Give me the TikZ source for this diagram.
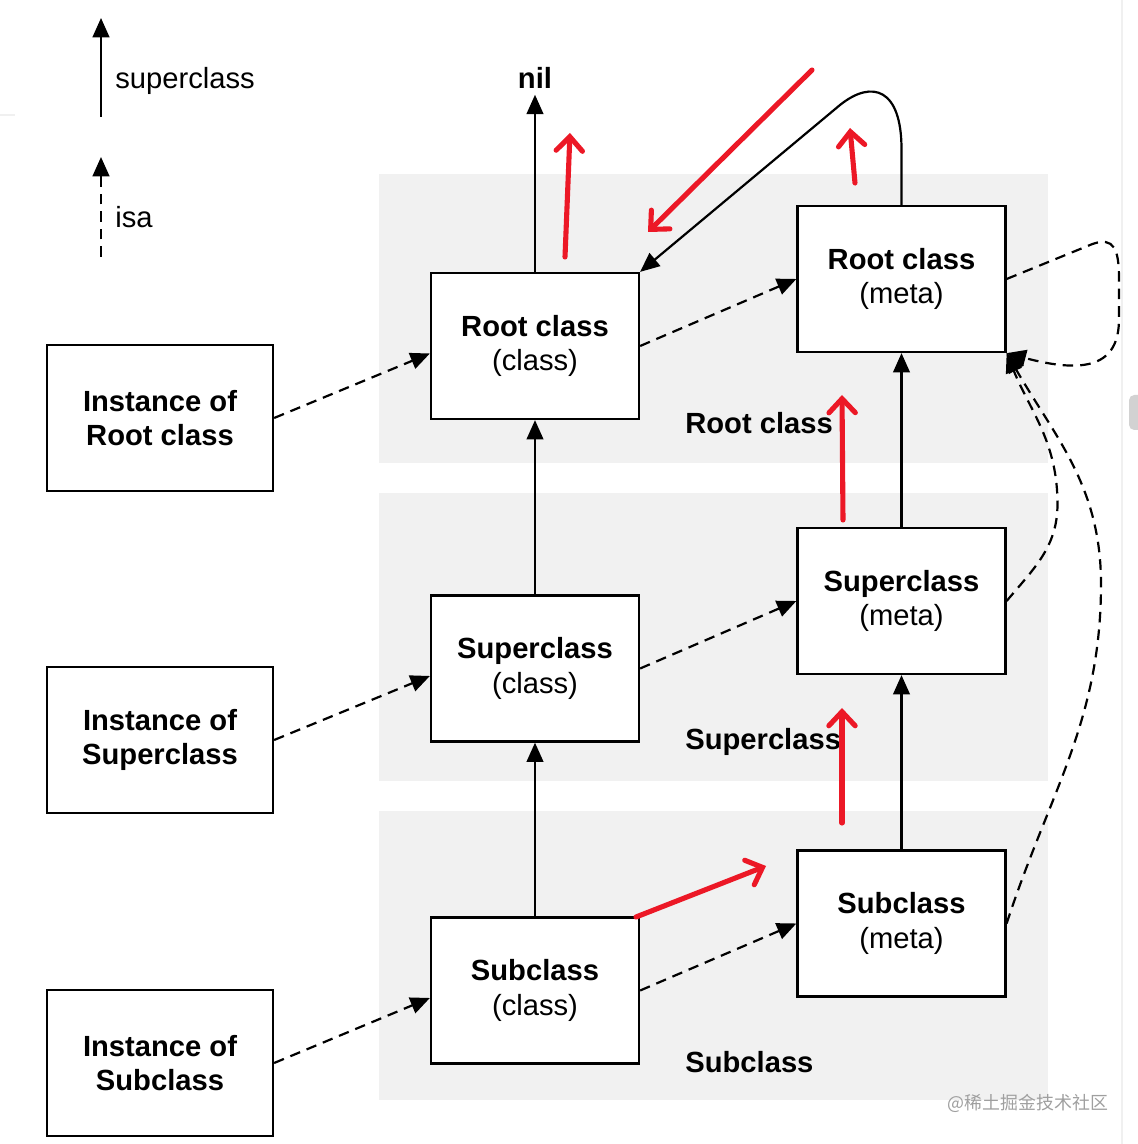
\documentclass[tikz,border=0pt]{standalone}
\usepackage{fontspec}
\setmainfont{Liberation Sans}
\newfontfamily\cjk{Noto Sans CJK SC}
\usetikzlibrary{arrows.meta}
\definecolor{bandgray}{RGB}{241,241,241}
\definecolor{mkred}{RGB}{236,24,38}
\begin{document}
\begin{tikzpicture}[
		font=\fontsize{16.6}{19.8}\selectfont,
		box/.style={draw,line width=1.3pt,fill=white,minimum width=4.16cm,minimum height=2.92cm,align=center,inner sep=0pt},
		inst/.style={box,minimum width=4.52cm,font=\fontsize{16.6}{19.8}\selectfont\bfseries},
		lbl/.style={anchor=west,inner sep=0pt},
		sup/.style={line width=1.25pt,-{Triangle[length=11pt,width=9.5pt]}},
		isa/.style={sup,dash pattern=on 6pt off 4pt},
		redmk/.style={mkred,line width=2.9pt,line cap=round,-{Straight Barb[length=8pt,width=15pt,line cap=round]}}]
		\useasboundingbox (0,0) rectangle (22.76,22.88);
		\fill[bandgray] (7.58,13.62) rectangle (20.96,19.40);
		\fill[bandgray] (7.58,7.26) rectangle (20.96,13.02);
		\fill[bandgray] (7.58,0.88) rectangle (20.96,6.66);
		\draw[gray!12,line width=1pt] (22.44,0) -- (22.44,22.88) (0,20.58) -- (0.3,20.58);
		\fill[gray!35,rounded corners=3pt] (22.58,14.28) rectangle (23.1,14.98);
		\coordinate (supA) at (2.02,20.54);
		\coordinate (supB) at (2.02,22.52);
		\coordinate (isaA) at (2.02,17.74);
		\coordinate (isaB) at (2.02,19.74);
		\draw[sup] (supA) -- (supB);
		\draw[isa] (isaA) -- (isaB);
		\node[lbl] (supL) at (2.3,21.26) {superclass};
		\node[lbl] (isaL) at (2.3,18.54) {isa};
		\node[inst] (instR) at (3.2,14.52) {Instance of\\Root class};
		\node[inst] (instS) at (3.2,8.08) {Instance of\\Superclass};
		\node[inst] (instB) at (3.2,1.62) {Instance of\\Subclass};
		\node[box] (clsR) at (10.7,15.96) {\textbf{Root class}\\(class)};
		\node[box] (clsS) at (10.7,9.51) {\textbf{Superclass}\\(class)};
		\node[box] (clsB) at (10.7,3.07) {\textbf{Subclass}\\(class)};
		\node[box] (metaR) at (18.03,17.30) {\textbf{Root class}\\(meta)};
		\node[box] (metaS) at (18.03,10.86) {\textbf{Superclass}\\(meta)};
		\node[box] (metaB) at (18.03,4.41) {\textbf{Subclass}\\(meta)};
		\node[font=\fontsize{16.6}{19.8}\selectfont\bfseries] (nil) at (10.7,21.32) {nil};
		\node[lbl,font=\fontsize{16.6}{19.8}\selectfont\bfseries] (bandR) at (13.7,14.42) {Root class};
		\node[lbl,font=\fontsize{16.6}{19.8}\selectfont\bfseries] (bandS) at (13.7,8.04) {Superclass};
		\node[lbl,font=\fontsize{16.6}{19.8}\selectfont\bfseries] (bandB) at (13.7,1.64) {Subclass};
		\draw[sup] (clsR.north) -- (clsR.north |- nil.south);
		\draw[sup] (clsS) -- (clsR);
		\draw[sup] (clsB) -- (clsS);
		\draw[sup] (metaS) -- (metaR);
		\draw[sup] (metaB) -- (metaS);
		\draw[sup] (metaR.north) -- (18.03,19.9) .. controls (18.03,21.1) and (17.45,21.3) .. (16.8,20.78) -- (clsR.north east);
		\draw[isa] (instR.east) -- ([yshift=-0.15cm]clsR.west);
		\draw[isa] (instS.east) -- ([yshift=-0.15cm]clsS.west);
		\draw[isa] (instB.east) -- ([yshift=-0.15cm]clsB.west);
		\draw[isa] (clsR.east) -- (metaR.west);
		\draw[isa] (clsS.east) -- (metaS.west);
		\draw[isa] (clsB.east) -- (metaB.west);
		\draw[isa] (metaR.east) -- (21.85,18.0) .. controls (22.28,18.15) and (22.38,17.9) .. (22.38,17.3) -- (22.38,16.5) .. controls (22.38,15.55) and (21.7,15.4) .. (metaR.south east);
		\draw[isa] (metaS.east) to[out=50,in=-90] (21.15,12.8) to[out=90,in=-68] (metaR.south east);
		\draw[isa] (metaB.east) to[out=72,in=-90] (22.02,11.2) to[out=90,in=-60] (metaR.south east);
		\draw[redmk] (11.3,17.74) -- (11.4,20.22);
		\draw[redmk] (16.24,21.48) -- (12.96,18.24);
		\draw[redmk] (17.1,19.22) -- (17.0,20.32);
		\draw[redmk] (16.86,12.48) -- (16.84,14.98);
		\draw[redmk] (16.84,6.42) -- (16.84,8.72);
		\draw[redmk] (12.72,4.54) -- (15.32,5.56);
		\node[font=\cjk\fontsize{10.2}{12}\selectfont,text=gray!75] (wm) at (20.56,0.82) {@稀土掘金技术社区};
	\end{tikzpicture}
\end{document}
